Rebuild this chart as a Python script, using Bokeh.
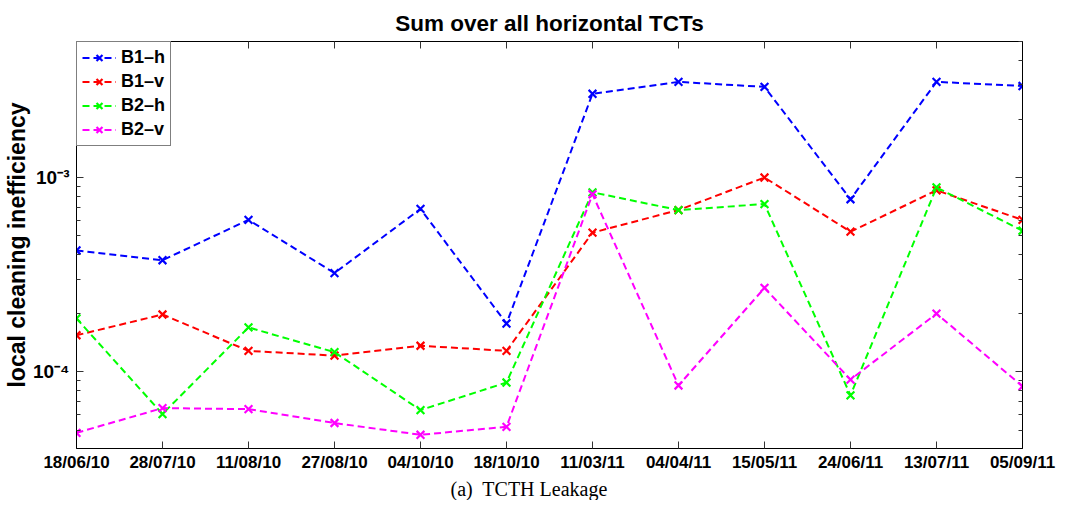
from bokeh.plotting import figure
from bokeh.models import (Range1d, FixedTicker, CustomJSTickFormatter, LinearAxis, LogAxis,
                          Legend, LegendItem, Title)
from bokeh.embed import file_html
from bokeh.resources import INLINE

dates = ["18/06/10", "28/07/10", "11/08/10", "27/08/10", "04/10/10", "18/10/10",
         "11/03/11", "04/04/11", "15/05/11", "24/06/11", "13/07/11", "05/09/11"]
b1_h = [4.21e-4, 3.75e-4, 6.05e-4, 3.22e-4, 6.89e-4, 1.77e-4,
        2.70e-3, 3.11e-3, 2.93e-3, 7.73e-4, 3.11e-3, 2.96e-3]
b1_v = [1.54e-4, 1.97e-4, 1.28e-4, 1.21e-4, 1.36e-4, 1.28e-4,
        5.20e-4, 6.80e-4, 1.00e-3, 5.26e-4, 8.59e-4, 6.05e-4]
b2_h = [1.88e-4, 6.05e-5, 1.69e-4, 1.26e-4, 6.34e-5, 8.79e-5,
        8.39e-4, 6.80e-4, 7.30e-4, 7.55e-5, 8.89e-4, 5.32e-4]
b2_v = [4.84e-5, 6.49e-5, 6.41e-5, 5.44e-5, 4.73e-5, 5.20e-5,
        8.20e-4, 8.49e-5, 2.70e-4, 9.10e-5, 1.99e-4, 8.40e-5]
series_names = ["B1\u2013h", "B1\u2013v", "B2\u2013h", "B2\u2013v"]
colors = ["#0000ff", "#ff0000", "#00ff00", "#ff00ff"]
y_major = [1e-4, 1e-3]
y_minor = [k * 10.0 ** e for e in (-5, -4, -3) for k in range(2, 10)]

FONT = "Liberation Sans"
xs = list(range(len(dates)))

p = figure(width=1059, height=500, y_axis_type="log",
           x_range=Range1d(0, len(dates) - 1), y_range=Range1d(4.02e-5, 5.02e-3),
           output_backend="svg", toolbar_location=None,
           min_border_left=76, min_border_right=37, min_border_top=41, min_border_bottom=50,
           title="Sum over all horizontal TCTs")
p.title.align = "center"
p.title.text_font = FONT
p.title.text_font_size = "22.5px"
p.title.text_font_style = "bold"
p.title.text_color = "black"
p.title.standoff = 12
p.grid.visible = False
p.outline_line_color = "black"
p.outline_line_width = 1
p.background_fill_color = "white"
p.border_fill_color = "white"

x_fmt = CustomJSTickFormatter(args=dict(labels=dates), code="""
const i = Math.round(tick); return (i >= 0 && i < labels.length) ? labels[i] : "";
""")
y_fmt = CustomJSTickFormatter(code="""
const e = Math.round(Math.log10(tick));
const sup = {"-": "\u207b", "0": "\u2070", "1": "\u00b9", "2": "\u00b2", "3": "\u00b3",
             "4": "\u2074", "5": "\u2075", "6": "\u2076", "7": "\u2077", "8": "\u2078", "9": "\u2079"};
return "10" + String(e).split("").map(c => sup[c]).join("");
""")
blank_fmt = CustomJSTickFormatter(code="return '';")

xa = p.xaxis[0]
xa.ticker = FixedTicker(ticks=xs)
xa.formatter = x_fmt
ya = p.yaxis[0]
ya.ticker = FixedTicker(ticks=y_major, minor_ticks=y_minor)
ya.formatter = y_fmt
ya.axis_label = "local cleaning inefficiency"
ya.axis_label_text_font = FONT
ya.axis_label_text_font_size = "23px"
ya.axis_label_text_font_style = "bold"
ya.axis_label_text_color = "black"
ya.axis_label_standoff = 0

for ax in (xa, ya):
    ax.major_label_text_font = FONT
    ax.major_label_text_font_size = "17px"
    ax.major_label_text_font_style = "bold"
    ax.major_label_text_color = "black"
    ax.axis_line_color = "black"
    ax.major_tick_in = 7
    ax.major_tick_out = 0
    ax.minor_tick_in = 4
    ax.minor_tick_out = 0
    ax.major_tick_line_color = "#333333"
    ax.minor_tick_line_color = "#333333"
ya.major_label_text_font_size = "19px"
ya.major_label_standoff = 7
xa.major_label_standoff = 4
xa.minor_tick_line_color = None

top = LinearAxis(ticker=FixedTicker(ticks=xs), formatter=blank_fmt, major_label_text_font_size="1px",
                 major_tick_in=7, major_tick_out=0, minor_tick_line_color=None,
                 major_tick_line_color="#333333", axis_line_color="black", major_label_standoff=0)
right = LogAxis(ticker=FixedTicker(ticks=y_major, minor_ticks=y_minor), formatter=blank_fmt,
                major_label_text_font_size="1px",
                major_tick_in=7, major_tick_out=0, minor_tick_in=4, minor_tick_out=0,
                major_tick_line_color="#333333", minor_tick_line_color="#333333",
                axis_line_color="black", major_label_standoff=0)
p.add_layout(top, "above")
p.add_layout(right, "right")

items = []
for name, vals, col in zip(series_names, [b1_h, b1_v, b2_h, b2_v], colors):
    ln = p.line(xs, vals, line_color=col, line_width=2, line_dash="7 4")
    sc = p.scatter(xs, vals, marker="x", size=11, line_color=col, line_width=2.2)
    items.append(LegendItem(label=name, renderers=[ln, sc]))

legend = Legend(items=items, location="top_left", margin=0, padding=5, spacing=3,
                label_height=21, glyph_height=21, glyph_width=34, label_standoff=5,
                label_text_font=FONT, label_text_font_size="18px", label_text_font_style="bold",
                label_text_color="black",
                border_line_color="black", border_line_width=1, background_fill_alpha=1)
p.add_layout(legend)

cap = Title(text="(a)\u00a0 TCTH Leakage", align="left", offset=374, standoff=2,
            text_font="Liberation Serif", text_font_size="20px", text_font_style="normal",
            text_color="black")
p.add_layout(cap, "below")

open("out.html", "w").write(file_html(p, INLINE))
